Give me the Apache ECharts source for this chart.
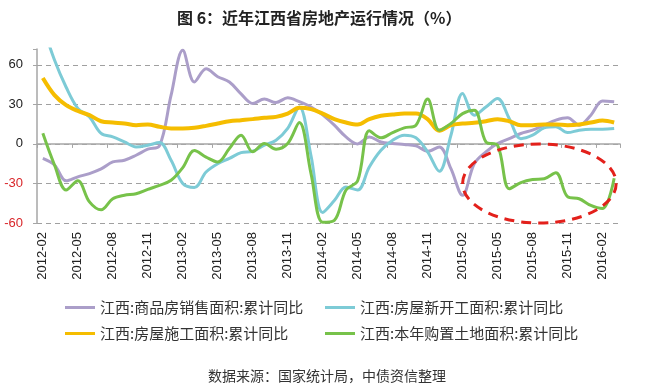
<!DOCTYPE html>
<html>
<head>
<meta charset="utf-8">
<script src="https://cdn.jsdelivr.net/npm/echarts@6/dist/echarts.min.js"></script>
<style>
html,body{margin:0;padding:0;background:#fff;}
#c{width:661px;height:387px;}
</style>
</head>
<body>
<div id="c"></div>
<script>
const categories = ['2012-02','2012-03','2012-04','2012-05','2012-06','2012-07','2012-08','2012-09','2012-10','2012-11','2012-12',
'2013-01','2013-02','2013-03','2013-04','2013-05','2013-06','2013-07','2013-08','2013-09','2013-10','2013-11','2013-12',
'2014-01','2014-02','2014-03','2014-04','2014-05','2014-06','2014-07','2014-08','2014-09','2014-10','2014-11','2014-12',
'2015-01','2015-02','2015-03','2015-04','2015-05','2015-06','2015-07','2015-08','2015-09','2015-10','2015-11','2015-12',
'2016-01','2016-02','2016-03'];

const salesArea = [-11,-16,-28,-25,-22.5,-19,-13.7,-12.4,-8.6,-4,-1.5,37,71,47,57,51,47,38,30.7,34,31.4,35,32,28,22,14.2,5.3,0,5.3,1.5,0.3,-0.5,-1.5,-5.6,-2.3,-18.8,-39,-15,-6,0.3,4,7.9,10.4,14.2,18,19.8,14.2,21.8,32.5,32];
const newStarts = [90,63.6,43,27,20.5,8,5.3,1.5,-2.3,-1,1,-12.4,-30,-33,-21.3,-15,-11,-6.6,-5.6,-1,2.8,11.7,28,-9,-52,-43,-32.7,-35,-17.5,-4.8,2.8,6.6,4.6,-6,-20.8,6.6,38.3,21.8,28,34.5,19.3,4,6.6,12.2,13,8.6,10.4,11.2,11.2,11.7];
const underConstruction = [50,37,29.4,25,21.8,17.2,16.2,15.5,14.2,14.7,13,11.7,11.7,12.2,13.7,15.5,17.2,18,18.8,19.8,20.5,23,27.4,26.4,23,18.8,16.2,14.7,18.8,21.3,22.3,23,23,18.8,10,14.2,15.5,16,17.2,18.8,17.2,14.2,14.2,14.7,14.7,14.2,14.7,16.2,17.7,16.2];
const landPurchase = [8,-16,-35,-28,-44,-50,-41.6,-39,-37.8,-34.5,-31.4,-27.6,-18,-5,-10,-13.7,-3.5,6.6,-6,0.3,-4,0.3,16.2,-22.5,-59.5,-58,-35,-28,10,4.6,8.6,12.2,14.2,34,10.4,15.5,23,25.6,1.5,-1,-34,-29.4,-27,-26.4,-21.8,-40,-41.6,-46.7,-49,-26];

const seriesNames = ['江西:商品房销售面积:累计同比','江西:房屋新开工面积:累计同比','江西:房屋施工面积:累计同比','江西:本年购置土地面积:累计同比'];
const seriesColors = ['#ab9ec9','#7dcbd6','#f5bd00','#77c24a'];
const yTicks = [-60,-30,0,30,60];
const titleText = '图 6：近年江西省房地产运行情况（%）';
const sourceText = '数据来源：国家统计局，中债资信整理';
const ellipseRange = {fromCat:'2015-02', toCat:'2016-03', top:0, bottom:-60};

const chart = echarts.init(document.getElementById('c'), null, {renderer:'canvas'});
const cjk = '"Noto Sans CJK SC", "Noto Sans", sans-serif';
const latin = '"Liberation Sans", Arial, sans-serif';

function mk(name, data, color, width){
  return {name:name, type:'line', data:data, smooth:0.35, symbol:'none',
    lineStyle:{color:color, width:width}, itemStyle:{color:color}, xAxisIndex:0, yAxisIndex:0};
}

const option = {
  animation:false,
  backgroundColor:'#fff',
  title:[
    {text:titleText, left:172, top:5, textStyle:{fontFamily:cjk, fontSize:16, fontWeight:'bold', color:'#222'}},
    {text:sourceText, left:203, top:364, textStyle:{fontFamily:cjk, fontSize:14, fontWeight:'normal', color:'#333'}}
  ],
  grid:{left:37, right:41, top:49, bottom:164, containLabel:false},
  legend:[
    {data:[seriesNames[0], seriesNames[2]], orient:'vertical', left:60, top:295, itemGap:11,
     icon:'rect', itemWidth:30, itemHeight:3, textStyle:{fontFamily:cjk, fontSize:15, color:'#333'}},
    {data:[seriesNames[1], seriesNames[3]], orient:'vertical', left:320, top:295, itemGap:11,
     icon:'rect', itemWidth:30, itemHeight:3, textStyle:{fontFamily:cjk, fontSize:15, color:'#333'}}
  ],
  xAxis:[
    {type:'category', data:categories, boundaryGap:true,
     axisLine:{onZero:true, lineStyle:{color:'#a6a6a6', width:1.5}},
     axisTick:{show:true, interval:2, length:4, lineStyle:{color:'#a6a6a6'}},
     axisLabel:{show:false}, splitLine:{show:false}},
    {type:'category', data:categories, boundaryGap:true, position:'bottom',
     axisLine:{show:false, onZero:false}, axisTick:{show:false},
     axisLabel:{show:true, interval:2, rotate:90, margin:9, fontFamily:latin, fontSize:13, color:'#222'},
     splitLine:{show:false}}
  ],
  yAxis:{type:'value', min:-60, max:72, interval:30,
    axisLine:{show:true, lineStyle:{color:'#a6a6a6', width:1.5}},
    axisTick:{show:true, length:4, lineStyle:{color:'#a6a6a6'}},
    axisLabel:{fontFamily:latin, fontSize:13, margin:14,
      formatter:function(v){ return yTicks.indexOf(v) >= 0 ? String(v) : ''; },
      color:function(v){ return Number(v) < 0 ? '#d9262a' : '#222'; }},
    splitLine:{show:true, showMaxLine:false, lineStyle:{color:'#a0a0a0', type:[5,4], width:1}}
  },
  series:[
    mk(seriesNames[0], salesArea, seriesColors[0], 3),
    mk(seriesNames[1], newStarts, seriesColors[1], 3),
    mk(seriesNames[2], underConstruction, seriesColors[2], 4),
    mk(seriesNames[3], landPurchase, seriesColors[3], 3)
  ]
};
chart.setOption(option);

const a = chart.convertToPixel({xAxisIndex:0, yAxisIndex:0}, [ellipseRange.fromCat, ellipseRange.top]);
const b = chart.convertToPixel({xAxisIndex:0, yAxisIndex:0}, [ellipseRange.toCat, ellipseRange.bottom]);
chart.setOption({graphic:[{type:'ellipse', z:100,
  shape:{cx:(a[0]+b[0])/2 + 1, cy:(a[1]+b[1])/2, rx:Math.abs(b[0]-a[0])/2 + 1, ry:Math.abs(b[1]-a[1])/2},
  style:{fill:'none', stroke:'#e3201b', lineWidth:3, lineDash:[10,7]}}]});
</script>
</body>
</html>
